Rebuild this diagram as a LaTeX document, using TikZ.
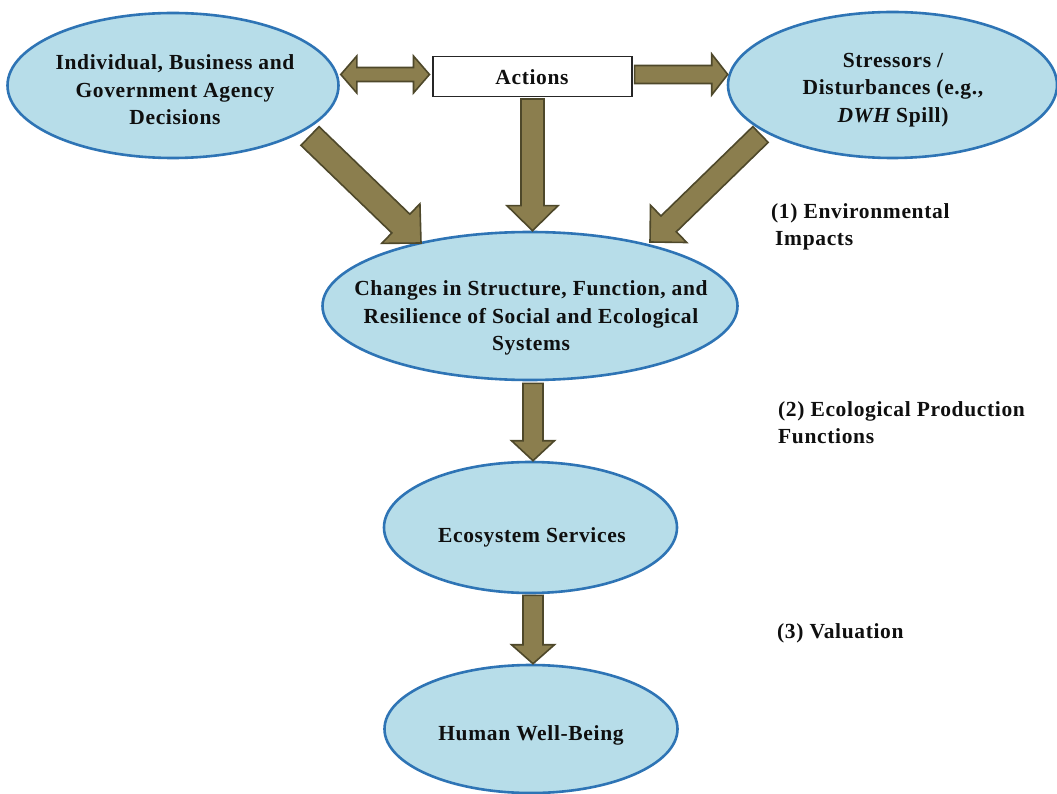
\documentclass[tikz,border=0pt]{standalone}
\usepackage{fontspec}
\setmainfont{Liberation Serif}[LetterSpace=3]
\usetikzlibrary{shapes.geometric,calc}

\definecolor{blobfill}{RGB}{183,221,233}
\definecolor{blobline}{RGB}{46,116,181}
\definecolor{olive}{RGB}{139,126,78}
\definecolor{olivedark}{RGB}{78,72,42}
\definecolor{ink}{RGB}{15,15,15}

% block arrow: tail, tip, shaft half-width, head half-width, head length
\newcommand\blockarrow[5]{%
  \coordinate (bah) at ($(#2)!#5!(#1)$);
  \filldraw[barrow] ($(#1)!#3!90:(#2)$) -- ($(bah)!#3!-90:(#1)$)
    -- ($(bah)!#4!-90:(#1)$) -- (#2) -- ($(bah)!#4!90:(#1)$)
    -- ($(bah)!#3!90:(#1)$) -- ($(#1)!#3!-90:(#2)$) -- cycle;
}
% double-headed block arrow: end, end, shaft half-width, head half-width, head length
\newcommand\dblblockarrow[5]{%
  \coordinate (dha) at ($(#1)!#5!(#2)$);
  \coordinate (dhb) at ($(#2)!#5!(#1)$);
  \filldraw[barrow] (#1) -- ($(dha)!#4!90:(#2)$) -- ($(dha)!#3!90:(#2)$)
    -- ($(dhb)!#3!-90:(#1)$) -- ($(dhb)!#4!-90:(#1)$) -- (#2)
    -- ($(dhb)!#4!90:(#1)$) -- ($(dhb)!#3!90:(#1)$)
    -- ($(dha)!#3!-90:(#2)$) -- ($(dha)!#4!-90:(#2)$) -- cycle;
}

\begin{document}
\begin{tikzpicture}[x=1pt,y=-1pt,
  blob/.style={ellipse,draw=blobline,fill=blobfill,line width=2.6pt,inner sep=0pt},
  txt/.style={text=ink,font=\fontsize{21.5}{27.5}\selectfont\bfseries,align=center,inner sep=0pt},
  side/.style={text=ink,font=\fontsize{21.5}{27}\selectfont\bfseries,align=left,inner sep=0pt},
  actbox/.style={draw=black!85,fill=white,line width=1.1pt,minimum width=199pt,minimum height=40pt,inner sep=0pt},
  barrow/.style={fill=olive,draw=olivedark,line width=1.6pt,line join=miter}]

\useasboundingbox[fill=white] (0,0) rectangle (1057,794);

% ellipses and the box
\node[blob,minimum width=331pt,minimum height=145pt] (dec) at (173,85.5) {};
\node[blob,minimum width=329pt,minimum height=146pt] (str) at (892.5,85) {};
\node[blob,minimum width=415pt,minimum height=148pt] (chg) at (530,306) {};
\node[blob,minimum width=293pt,minimum height=131pt] (eco) at (530.5,527.5) {};
\node[blob,minimum width=293pt,minimum height=128pt] (hwb) at (531,729) {};
\node[actbox] (act) at (532.5,76.5) {};

% texts
\node[txt] (decT) at (175,90) {Individual, Business and\\Government Agency\\Decisions};
\node[txt] (strT) at (893,90) {Stressors /\\Disturbances (e.g.,\\{\itshape DWH} Spill)};
\node[txt] (chgT) at (531,318) {Changes in Structure, Function, and\\Resilience of Social and Ecological\\Systems};
\node[txt,anchor=base] (ecoT) at (532,542) {Ecosystem Services};
\node[txt,anchor=base] (hwbT) at (531,740) {Human Well-Being};
\node[txt,anchor=base] (actT) at (532,85) {Actions};

% stage labels
\node[side,anchor=west] (s1) at (771,227) {(1) Environmental\\\hspace*{4pt}Impacts};
\node[side,anchor=west] (s2) at (778,423) {(2) Ecological Production\\Functions};
\node[side,anchor=base west] (s3) at (777,638) {(3) Valuation};

% connector end points
\coordinate (da) at ($(dec.east)+(1,-11)$);
\coordinate (db) at ($(act.west)+(-3,-2)$);
\coordinate (aa) at ($(act.east)+(2,-2)$);
\coordinate (ab) at ($(str.west)+(1,-10.5)$);
\coordinate (ad) at ($(act.south)+(0,2)$);
\coordinate (dt) at ($(dec.center)+(137,50.5)$);
\coordinate (dh) at ($(chg.center)+(-109,-63)$);
\coordinate (st) at ($(str.center)+(-132,49.5)$);
\coordinate (sh) at ($(chg.center)+(120,-64)$);
\coordinate (ct) at ($(chg.south)+(3,2)$);
\coordinate (et) at ($(eco.south)+(2.5,1)$);

% block arrows
\dblblockarrow{da}{db}{7pt}{18.5pt}{16pt}
\blockarrow{aa}{ab}{9pt}{20.5pt}{16pt}
\blockarrow{ad}{ad |- chg.north}{11.5pt}{25.5pt}{25pt}
\blockarrow{dt}{dh}{13pt}{27.5pt}{28pt}
\blockarrow{st}{sh}{11pt}{26pt}{26pt}
\blockarrow{ct}{ct |- eco.north}{10pt}{21.5pt}{20pt}
\blockarrow{et}{et |- hwb.north}{10pt}{21.5pt}{19pt}
\end{tikzpicture}
\end{document}
